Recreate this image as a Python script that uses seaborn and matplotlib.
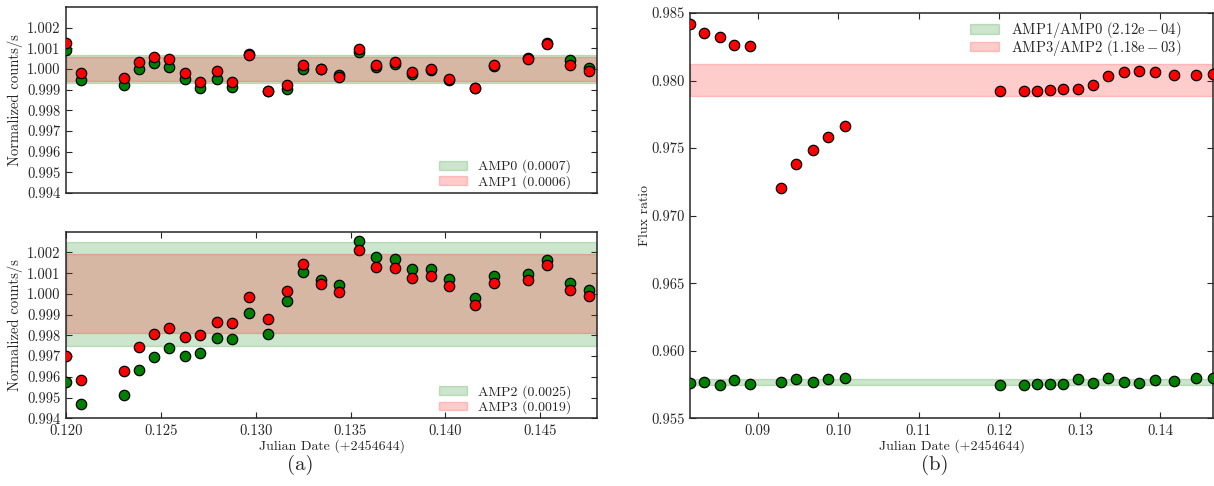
import numpy as np
import seaborn as sns
import matplotlib
matplotlib.use("Agg")
import matplotlib.pyplot as plt

# observation times (Julian Date - 2454644), panel (a)
t_amp = [0.1200, 0.12081, 0.12307, 0.12386, 0.12466, 0.12544, 0.12628, 0.12707, 0.12795,
         0.12877, 0.12963, 0.13063, 0.13163, 0.13249, 0.13342, 0.13438, 0.13544, 0.13633,
         0.13737, 0.13826, 0.13926, 0.14017, 0.14159, 0.14259, 0.14435, 0.14537, 0.14656, 0.14759]

amp0 = [1.00091, 0.99947, 0.99921, 0.99999, 1.00028, 1.00010, 0.99953, 0.99910, 0.99953,
        0.99911, 1.00071, 0.99893, 0.99905, 1.00000, 0.99998, 0.99971, 1.00084, 1.00010,
        1.00024, 0.99976, 0.99995, 0.99945, 0.99910, 1.00016, 1.00052, 1.00126, 1.00042, 1.00003]
amp1 = [1.00126, 0.99981, 0.99956, 1.00034, 1.00057, 1.00049, 0.99981, 0.99937, 0.99989,
        0.99937, 1.00068, 0.99895, 0.99924, 1.00019, 1.00002, 0.99963, 1.00099, 1.00021,
        1.00033, 0.99985, 1.00000, 0.99950, 0.99910, 1.00019, 1.00047, 1.00123, 1.00021, 0.99989]
amp2 = [0.99576, 0.99470, 0.99512, 0.99633, 0.99697, 0.99737, 0.99700, 0.99713, 0.99787,
        0.99783, 0.99908, 0.99808, 0.99964, 1.00106, 1.00068, 1.00045, 1.00256, 1.00177,
        1.00167, 1.00119, 1.00122, 1.00072, 0.99981, 1.00084, 1.00095, 1.00164, 1.00051, 1.00019]
amp3 = [0.99699, 0.99585, 0.99629, 0.99742, 0.99807, 0.99834, 0.99794, 0.99800, 0.99866,
        0.99860, 0.99984, 0.99879, 1.00014, 1.00143, 1.00048, 1.00008, 1.00211, 1.00129,
        1.00127, 1.00079, 1.00084, 1.00039, 0.99947, 1.00053, 1.00068, 1.00137, 1.00019, 0.99988]

# band half-widths (legend values)
sig_amp0, sig_amp1, sig_amp2, sig_amp3 = 0.0007, 0.0006, 0.0025, 0.0019

# panel (b): flux ratios
t_ratio = [0.0816, 0.08334, 0.08529, 0.0871, 0.08908, 0.09293, 0.09479, 0.09682, 0.09876,
           0.10087, 0.12005, 0.12306, 0.12464, 0.12629, 0.12794, 0.12973, 0.13167, 0.13345,
           0.13547, 0.13737, 0.13928, 0.14164, 0.14437, 0.14650]
ratio_10 = [0.95761, 0.95766, 0.95746, 0.95781, 0.95754, 0.95766, 0.95789, 0.95766, 0.95791,
            0.95801, 0.95744, 0.95749, 0.95756, 0.95756, 0.95752, 0.95789, 0.95764, 0.95798,
            0.95766, 0.95761, 0.95783, 0.95778, 0.95798, 0.95798]
ratio_32 = [0.98419, 0.98350, 0.98320, 0.98263, 0.98258, 0.97202, 0.97382, 0.97484, 0.97582,
            0.97661, 0.97925, 0.97923, 0.97923, 0.97930, 0.97940, 0.97935, 0.97969, 0.98034,
            0.98061, 0.98068, 0.98063, 0.98041, 0.98043, 0.98048]
mean_10, sig_10 = 0.95766, 2.12e-04
mean_32, sig_32 = 0.98003, 1.18e-03

sns.set_style("ticks")
plt.rcParams["font.family"] = "cmr10"
plt.rcParams["mathtext.fontset"] = "cm"
plt.rcParams["axes.unicode_minus"] = False
plt.rcParams["axes.formatter.use_mathtext"] = True
plt.rcParams["font.size"] = 10

fig = plt.figure(figsize=(12.14, 4.86), dpi=100)
ax_top = fig.add_axes([0.0544, 0.6029, 0.4374, 0.3827])
ax_bot = fig.add_axes([0.0544, 0.1393, 0.4374, 0.3840])
ax_r = fig.add_axes([0.5684, 0.1393, 0.4308, 0.8340])

mk = dict(s=56, edgecolor="black", linewidth=0.9, zorder=3, legend=False)


def panel(ax, y_g, y_r, sg, sr, lab_g, lab_r):
    ax.axhspan(1 - sg, 1 + sg, color="green", alpha=0.2, label=lab_g)
    ax.axhspan(1 - sr, 1 + sr, color="red", alpha=0.2, label=lab_r)
    sns.scatterplot(x=t_amp, y=y_g, color="green", ax=ax, **mk)
    sns.scatterplot(x=t_amp, y=y_r, color="red", ax=ax, **mk)
    ax.set_xlim(0.120, 0.148)
    ax.set_ylim(0.994, 1.003)
    ax.set_yticks(np.arange(0.994, 1.0025, 0.001))
    ax.yaxis.set_major_formatter(plt.FormatStrFormatter("%.3f"))
    ax.set_ylabel("Normalized counts/s", fontsize=10.5, labelpad=3)
    ax.legend(loc="lower right", frameon=False, labelspacing=0.12, handlelength=2.0,
              handleheight=0.6, fontsize=10, bbox_to_anchor=(0.975, -0.045))


panel(ax_top, amp0, amp1, sig_amp0, sig_amp1, "AMP0 (0.0007)", "AMP1 (0.0006)")
panel(ax_bot, amp2, amp3, sig_amp2, sig_amp3, "AMP2 (0.0025)", "AMP3 (0.0019)")
ax_top.set_xticks([])
ax_bot.set_xticks(np.arange(0.120, 0.1451, 0.005))
ax_bot.xaxis.set_major_formatter(plt.FormatStrFormatter("%.3f"))
ax_bot.set_xlabel("Julian Date (+2454644)", labelpad=1)

ax_r.axhspan(mean_10 - sig_10, mean_10 + sig_10, color="green", alpha=0.2,
             label=r"AMP1/AMP0 ($2.12\mathrm{e}-04$)")
ax_r.axhspan(mean_32 - sig_32, mean_32 + sig_32, color="red", alpha=0.2,
             label=r"AMP3/AMP2 ($1.18\mathrm{e}-03$)")
sns.scatterplot(x=t_ratio, y=ratio_10, color="green", ax=ax_r, **mk)
sns.scatterplot(x=t_ratio, y=ratio_32, color="red", ax=ax_r, **mk)
ax_r.set_xlim(0.0816, 0.14653)
ax_r.set_ylim(0.955, 0.985)
ax_r.set_xticks(np.arange(0.09, 0.1451, 0.01))
ax_r.xaxis.set_major_formatter(plt.FormatStrFormatter("%.2f"))
ax_r.yaxis.set_major_formatter(plt.FormatStrFormatter("%.3f"))
ax_r.set_xlabel("Julian Date (+2454644)", labelpad=1)
ax_r.set_ylabel("Flux ratio", labelpad=0)
ax_r.legend(loc="upper right", frameon=False, labelspacing=-0.15, handlelength=2.0,
            handleheight=0.6, fontsize=10.5, bbox_to_anchor=(0.965, 1.015))

for ax in (ax_top, ax_bot, ax_r):
    ax.tick_params(direction="in", length=4.5, width=0.8, top=True, right=True,
                   labelsize=10.5, pad=4)
    for sp in ax.spines.values():
        sp.set_linewidth(1.1)
ax_top.tick_params(top=False, bottom=False)

fig.text(0.247, 0.043, "(a)", fontsize=15, ha="center", va="center")
fig.text(0.770, 0.043, "(b)", fontsize=15, ha="center", va="center")

fig.savefig("out.png", dpi=100)
